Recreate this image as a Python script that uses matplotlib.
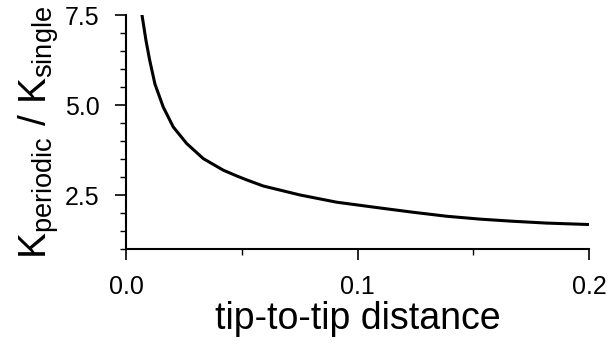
import matplotlib
matplotlib.use('Agg')
import matplotlib.pyplot as plt
from matplotlib.ticker import MultipleLocator

plt.rcParams['font.family'] = ['Liberation Sans', 'DejaVu Sans']
plt.rcParams['mathtext.fontset'] = 'custom'
plt.rcParams['mathtext.rm'] = 'Liberation Sans'
plt.rcParams['mathtext.it'] = 'Liberation Sans'

# curve
distance = [0.0069, 0.0086, 0.0102, 0.0125, 0.0161, 0.0204, 0.0262, 0.0334,
            0.042, 0.0478, 0.0521, 0.0593, 0.0752, 0.091, 0.1097, 0.1241,
            0.1385, 0.1529, 0.1673, 0.1817, 0.2]
ratio = [7.5, 6.8, 6.25, 5.58, 4.94, 4.39, 3.93, 3.51,
         3.19, 3.03, 2.92, 2.75, 2.5, 2.3, 2.14, 2.02,
         1.91, 1.83, 1.77, 1.72, 1.68]

fig = plt.figure(figsize=(6.1, 3.54), dpi=100)
ax = fig.add_axes([0.2066, 0.2966, 0.759, 0.661])

ax.plot(distance, ratio, color='black', lw=2.2, solid_joinstyle='round')

ax.set_xlim(0, 0.2)
ax.set_ylim(1.0, 7.5)
ax.xaxis.set_major_locator(MultipleLocator(0.1))
ax.xaxis.set_minor_locator(MultipleLocator(0.05))
ax.yaxis.set_minor_locator(MultipleLocator(0.5))
ax.set_yticks([2.5, 5.0, 7.5])
ax.xaxis.set_major_formatter(plt.FormatStrFormatter('%.1f'))
ax.yaxis.set_major_formatter(plt.FormatStrFormatter('%.1f'))

for s in ['top', 'right']:
    ax.spines[s].set_visible(False)
for s in ['left', 'bottom']:
    ax.spines[s].set_linewidth(1.5)

ax.tick_params(which='major', direction='out', length=8, width=1.2, labelsize=18, pad=11)
ax.tick_params(which='minor', direction='out', length=4, width=1.0)

ax.set_xlabel('tip-to-tip distance', fontsize=27, labelpad=1)
ax.set_ylabel(r'$\mathrm{K}_{\mathrm{periodic}}$ / $\mathrm{K}_{\mathrm{single}}$', fontsize=28, labelpad=3)

fig.savefig('out.png', dpi=100)
